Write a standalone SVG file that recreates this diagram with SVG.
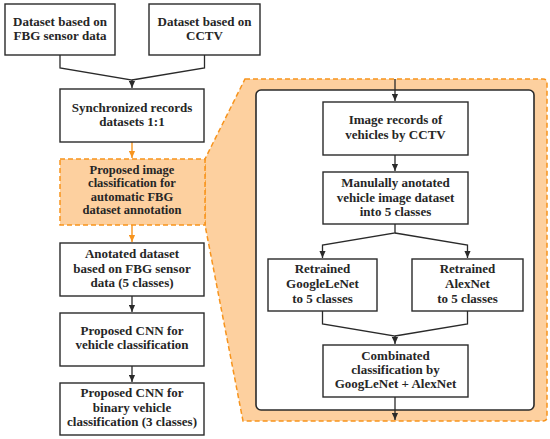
<svg xmlns="http://www.w3.org/2000/svg" width="550" height="439" viewBox="0 0 550 439">
<style>
.box{fill:#fff;stroke:#2a2a2a;stroke-width:1.4}
.obox{fill:#FDD09F;stroke:#F7941D;stroke-width:1.5;stroke-dasharray:5 3}
.t{font-family:"Liberation Serif","Times New Roman",serif;font-weight:bold;font-size:13px;fill:#262626;text-anchor:middle}
.ts{font-size:12.5px}
.ln{fill:none;stroke:#2a2a2a;stroke-width:1.3}
.oln{fill:none;stroke:#F7941D;stroke-width:1.4}
</style>
<defs>
<marker id="ah" viewBox="0 0 8 8" refX="8" refY="4" markerWidth="7" markerHeight="7" markerUnits="userSpaceOnUse" orient="auto">
<path d="M0,0.5 L8,4 L0,7.5 z" fill="#2a2a2a"/>
</marker>
<marker id="oah" viewBox="0 0 8 8" refX="8" refY="4" markerWidth="7" markerHeight="7" markerUnits="userSpaceOnUse" orient="auto">
<path d="M0,0.5 L8,4 L0,7.5 z" fill="#F7941D"/>
</marker>
</defs>
<rect width="550" height="439" fill="#fff"/>

<g id="zoom-panel">
<path class="obox" d="M245,79 L543,79 Q547,79 547,83 L547,417 Q547,421 543,421 L243,421 L205,225 L205,159 Z"/>
<rect x="256" y="90" width="278" height="320" rx="5" ry="5" fill="#fff" stroke="#2a2a2a" stroke-width="1.6"/>
</g>

<g id="connectors">
<path class="ln" d="M60,55 V68 L132,80 V88" marker-end="url(#ah)"/>
<path class="ln" d="M204.5,55 V68 L132,80"/>
<path class="oln" d="M132,142 V158" marker-end="url(#oah)"/>
<path class="oln" d="M132,225 V242" marker-end="url(#oah)"/>
<path class="ln" d="M132,296 V312" marker-end="url(#ah)"/>
<path class="ln" d="M132,366 V382" marker-end="url(#ah)"/>
<path class="ln" d="M395,79 V101" marker-end="url(#ah)"/>
<path class="ln" d="M395,155 V171" marker-end="url(#ah)"/>
<path class="ln" d="M395,224 V233 L322.5,245 V258" marker-end="url(#ah)"/>
<path class="ln" d="M395,233 L467.5,245 V258" marker-end="url(#ah)"/>
<path class="ln" d="M322.5,311 V324 L395,336 V344" marker-end="url(#ah)"/>
<path class="ln" d="M467.5,311 V324 L395,336"/>
<path class="ln" d="M395,397 V420" marker-end="url(#ah)"/>
</g>

<g id="n-fbg">
<rect class="box" x="5" y="4" width="110" height="51"/>
<text class="t" x="60" y="26">Dataset based on</text>
<text class="t" x="60" y="40">FBG sensor data</text>
</g>
<g id="n-cctv">
<rect class="box" x="149" y="4" width="111" height="51"/>
<text class="t" x="204.5" y="26">Dataset based on</text>
<text class="t" x="204.5" y="40">CCTV</text>
</g>
<g id="n-sync">
<rect class="box" x="60" y="89" width="144" height="53"/>
<text class="t" x="132" y="112">Synchronized records</text>
<text class="t" x="132" y="126">datasets 1:1</text>
</g>
<g id="n-proposed-image">
<rect class="obox" x="60" y="159" width="145" height="66"/>
<text class="t ts" x="132" y="173.5">Proposed image</text>
<text class="t ts" x="132" y="187">classification for</text>
<text class="t ts" x="132" y="200.5">automatic FBG</text>
<text class="t ts" x="132" y="214">dataset annotation</text>
</g>
<g id="n-annotated">
<rect class="box" x="60" y="243" width="144" height="53"/>
<text class="t" x="132" y="258">Anotated dataset</text>
<text class="t" x="132" y="273">based on FBG sensor</text>
<text class="t" x="132" y="287">data (5 classes)</text>
</g>
<g id="n-cnn">
<rect class="box" x="60" y="313" width="144" height="53"/>
<text class="t" x="132" y="335">Proposed CNN for</text>
<text class="t" x="132" y="349">vehicle classification</text>
</g>
<g id="n-binary">
<rect class="box" x="60" y="383" width="144" height="52"/>
<text class="t" x="132" y="397">Proposed CNN for</text>
<text class="t" x="132" y="412">binary vehicle</text>
<text class="t" x="132" y="426">classification (3 classes)</text>
</g>
<g id="n-image-records">
<rect class="box" x="323" y="102" width="145" height="53"/>
<text class="t" x="395.5" y="124">Image records of</text>
<text class="t" x="395.5" y="139">vehicles by CCTV</text>
</g>
<g id="n-manual">
<rect class="box" x="323" y="172" width="145" height="52"/>
<text class="t" x="395.5" y="187">Manulally anotated</text>
<text class="t" x="395.5" y="202">vehicle image dataset</text>
<text class="t" x="395.5" y="216">into 5 classes</text>
</g>
<g id="n-googlelenet">
<rect class="box" x="268" y="259" width="109" height="52"/>
<text class="t" x="322.5" y="273">Retrained</text>
<text class="t" x="322.5" y="288">GoogleLeNet</text>
<text class="t" x="322.5" y="303">to 5 classes</text>
</g>
<g id="n-alexnet">
<rect class="box" x="412" y="259" width="111" height="52"/>
<text class="t" x="467.5" y="273">Retrained</text>
<text class="t" x="467.5" y="288">AlexNet</text>
<text class="t" x="467.5" y="303">to 5 classes</text>
</g>
<g id="n-combined">
<rect class="box" x="323" y="345" width="145" height="52"/>
<text class="t" x="395.5" y="360">Combinated</text>
<text class="t" x="395.5" y="374">classification by</text>
<text class="t" x="395.5" y="388">GoogLeNet + AlexNet</text>
</g>
</svg>
